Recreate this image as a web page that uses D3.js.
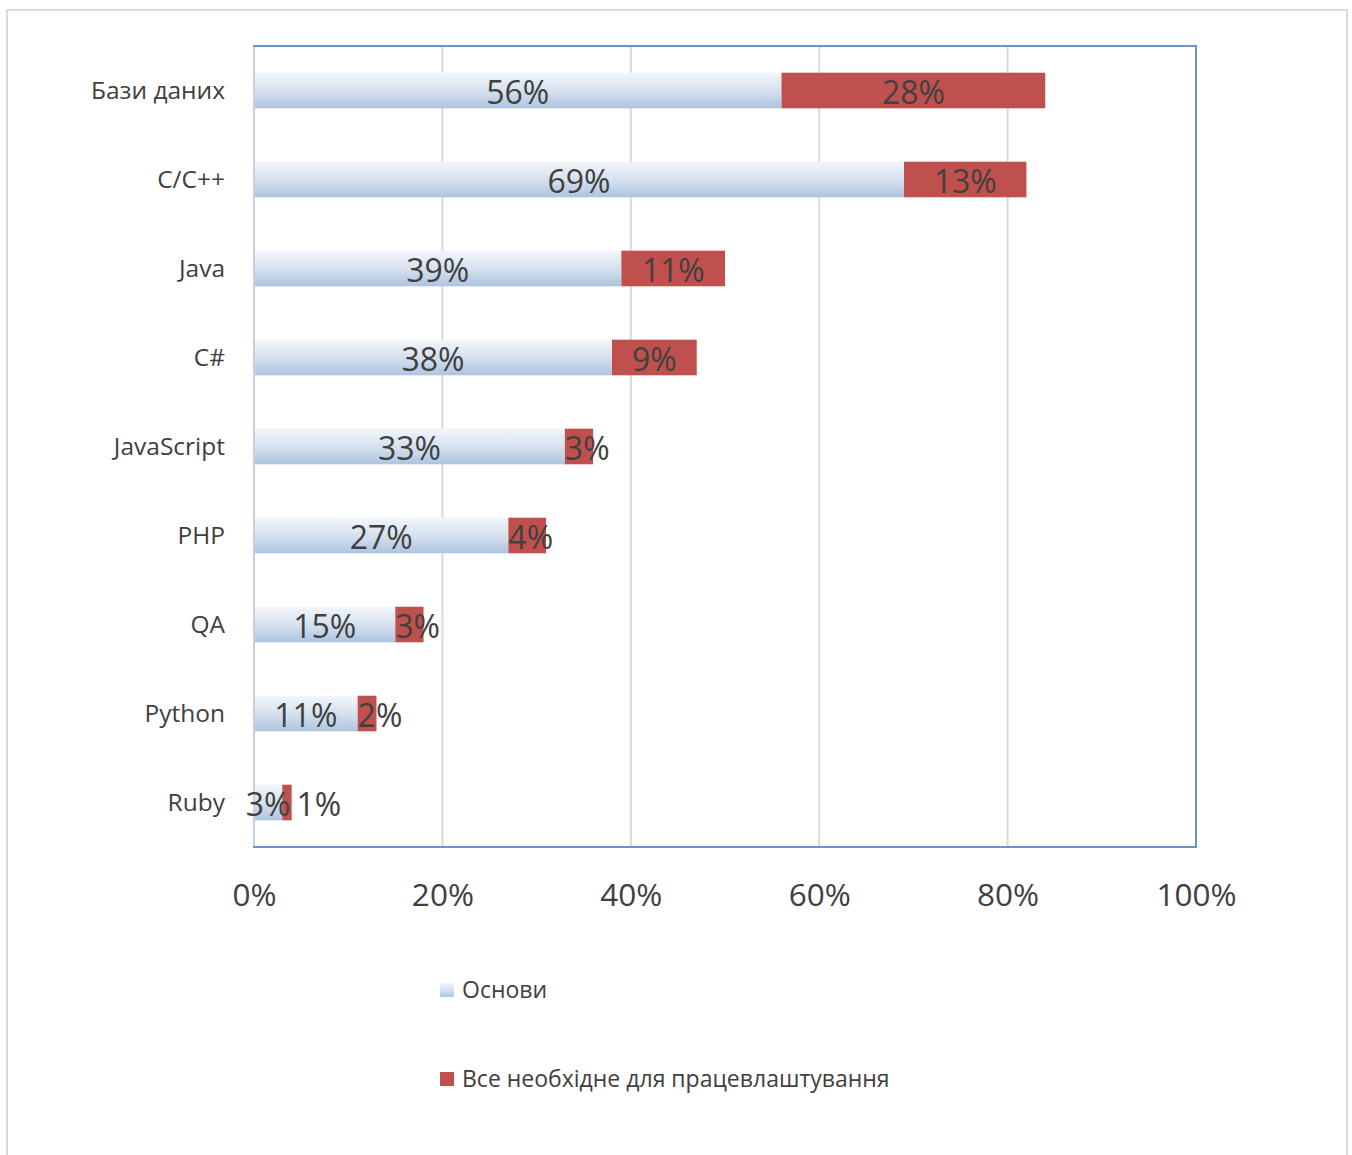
<!DOCTYPE html>
<html>
<head>
<meta charset="utf-8">
<script src="https://cdn.jsdelivr.net/npm/d3@7"></script>
<style>
  html, body { margin: 0; padding: 0; background: #fff; }
  svg { display: block; }
  text { font-family: "Open Sans", "Noto Sans", sans-serif; fill: #404040; }
</style>
</head>
<body>
<svg id="chart" width="1352" height="1155"></svg>
<script>
// Course topics (top to bottom) and their two shares
const categories = ["Бази даних", "C/C++", "Java", "C#", "JavaScript", "PHP", "QA", "Python", "Ruby"];
const basics     = [56, 69, 39, 38, 33, 27, 15, 11, 3];   // "Основи"
const employment = [28, 13, 11, 9, 3, 4, 3, 2, 1];        // "Все необхідне для працевлаштування"
const xTicks     = [0, 20, 40, 60, 80, 100];
const seriesNames = ["Основи", "Все необхідне для працевлаштування"];

const svg = d3.select("#chart");
const W = 1352, H = 1155;

// outer chart frame
svg.append("rect")
  .attr("x", 7).attr("y", 10).attr("width", 1340).attr("height", H)
  .attr("fill", "#fff").attr("stroke", "#d9d9d9").attr("stroke-width", 2);

const plot = { left: 254, right: 1196, top: 46, bottom: 847 };

const x = d3.scaleLinear().domain([0, 100]).range([plot.left, plot.right]);
const y = d3.scaleBand().domain(categories)
  .range([plot.top, plot.bottom])
  .paddingInner(0.6).paddingOuter(0.3);

// gradient fill for the base series
const defs = svg.append("defs");
const grad = defs.append("linearGradient").attr("id", "baseGrad")
  .attr("x1", 0).attr("y1", 0).attr("x2", 0).attr("y2", 1);
grad.append("stop").attr("offset", "0%").attr("stop-color", "#f3f6fb");
grad.append("stop").attr("offset", "55%").attr("stop-color", "#d3dfee");
grad.append("stop").attr("offset", "100%").attr("stop-color", "#adc3df");

// vertical gridlines
svg.append("g")
  .selectAll("line")
  .data(xTicks.filter(t => t > 0 && t < 100))
  .join("line")
  .attr("x1", d => x(d)).attr("x2", d => x(d))
  .attr("y1", plot.top).attr("y2", plot.bottom)
  .attr("stroke", "#d9d9d9").attr("stroke-width", 2);

// stacked data
const rows = categories.map((c, i) => ({ cat: c, a: basics[i], b: employment[i] }));

// base segments
svg.append("g")
  .selectAll("rect")
  .data(rows)
  .join("rect")
  .attr("x", x(0))
  .attr("y", d => y(d.cat))
  .attr("width", d => x(d.a) - x(0))
  .attr("height", y.bandwidth())
  .attr("fill", "url(#baseGrad)");

// employment segments
svg.append("g")
  .selectAll("rect")
  .data(rows)
  .join("rect")
  .attr("x", d => x(d.a))
  .attr("y", d => y(d.cat))
  .attr("width", d => x(d.a + d.b) - x(d.a))
  .attr("height", y.bandwidth())
  .attr("fill", "#c0504d");

// plot area frame
svg.append("rect")
  .attr("x", plot.left).attr("y", plot.top)
  .attr("width", plot.right - plot.left).attr("height", plot.bottom - plot.top)
  .attr("fill", "none").attr("stroke", "#6a93cc").attr("stroke-width", 2);
// category axis line
svg.append("line")
  .attr("x1", plot.left).attr("x2", plot.left)
  .attr("y1", plot.top + 1).attr("y2", plot.bottom - 1)
  .attr("stroke", "#c9d0dc").attr("stroke-width", 2);

// value labels
const labelFont = 32;
const lblG = svg.append("g").attr("font-size", labelFont);
rows.forEach(d => {
  const cy = y(d.cat) + y.bandwidth() / 2 + labelFont * 0.36 + 2;
  const t1 = lblG.append("text")
    .attr("x", (x(0) + x(d.a)) / 2).attr("y", cy)
    .attr("text-anchor", "middle").text(d.a + "%");
  const w1 = t1.node().getComputedTextLength();
  const end1 = (x(0) + x(d.a)) / 2 + w1 / 2;

  const t2 = lblG.append("text").attr("y", cy).attr("text-anchor", "middle").text(d.b + "%");
  const w2 = t2.node().getComputedTextLength();
  let cx = (x(d.a) + x(d.a + d.b)) / 2;
  cx = Math.max(cx, x(d.a) + w2 / 2);
  cx = Math.max(cx, end1 + 6 + w2 / 2);
  t2.attr("x", cx);
});

// category labels
svg.append("g")
  .selectAll("text")
  .data(categories)
  .join("text")
  .attr("x", 225)
  .attr("y", d => y(d) + y.bandwidth() / 2 + 8)
  .attr("text-anchor", "end")
  .attr("font-size", 24.5)
  .text(d => d);

// value axis tick labels
const xAxis = d3.axisBottom(x).tickValues(xTicks).tickFormat(d => d + "%").tickSize(0).tickPadding(0);
const axG = svg.append("g").attr("transform", `translate(0, ${plot.bottom})`).call(xAxis);
axG.select(".domain").remove();
axG.selectAll("text")
  .attr("dy", null).attr("y", 59)
  .attr("font-size", 31.5)
  .attr("font-family", "\"Open Sans\", sans-serif")
  .attr("fill", "#404040");

// legend
const legend = svg.append("g");
const legY = [990, 1079];
seriesNames.forEach((name, i) => {
  legend.append("rect")
    .attr("x", 440).attr("y", legY[i] - 7).attr("width", 14).attr("height", 14)
    .attr("fill", i === 0 ? "url(#baseGrad)" : "#c0504d");
  legend.append("text")
    .attr("x", 462).attr("y", legY[i] + 8)
    .attr("font-size", 23)
    .text(name);
});
</script>
</body>
</html>
